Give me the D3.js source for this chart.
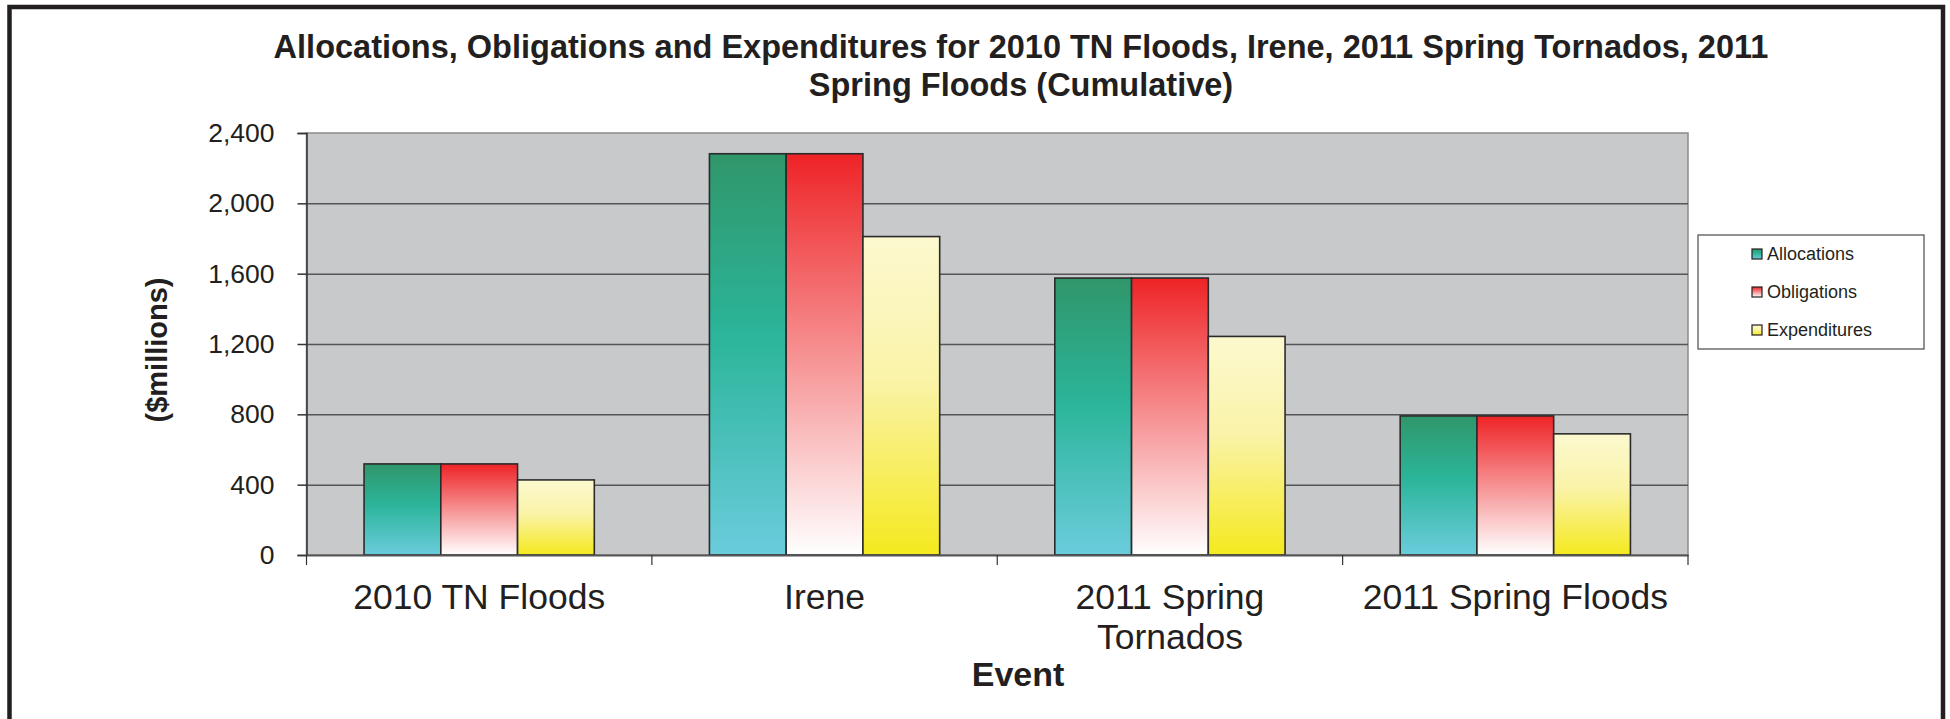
<!DOCTYPE html>
<html>
<head>
<meta charset="utf-8">
<script src="https://cdn.jsdelivr.net/npm/d3@7"></script>
<style>
  html, body { margin: 0; padding: 0; background: #fff; }
  svg { display: block; font-family: "Liberation Sans", Arial, Helvetica, sans-serif; }
</style>
</head>
<body>
<svg id="chart" width="1950" height="719"></svg>
<script>
// ---- data ----
const categories = ["2010 TN Floods", "Irene", "2011 Spring Tornados", "2011 Spring Floods"];
const categoryLabels = [["2010 TN Floods"], ["Irene"], ["2011 Spring", "Tornados"], ["2011 Spring Floods"]];
const seriesNames = ["Allocations", "Obligations", "Expenditures"];
const allocations = [518, 2282, 1575, 791];
const obligations = [518, 2282, 1575, 791];
const expenditures = [427, 1811, 1243, 689];
const yTicks = [0, 400, 800, 1200, 1600, 2000, 2400];
const titleLines = ["Allocations, Obligations and Expenditures for 2010 TN Floods, Irene, 2011 Spring Tornados, 2011",
                    "Spring Floods (Cumulative)"];

const seriesValues = [allocations, obligations, expenditures];

// ---- layout ----
const svg = d3.select("#chart");
const plot = { left: 306.5, right: 1688, top: 133, bottom: 555 };

const x0 = d3.scaleBand().domain(categories).range([plot.left, plot.right]).padding(0);
const x1 = d3.scaleBand().domain(seriesNames).range([0, x0.bandwidth()]).paddingInner(0).paddingOuter(0.75);
const y = d3.scaleLinear().domain([0, 2400]).range([plot.bottom, plot.top]);

// gradients
const defs = svg.append("defs");
const gradStops = {
  Allocations: [["0%", "#30966A"], ["45%", "#2BB59A"], ["100%", "#6BCCDC"]],
  Obligations: [["0%", "#EE2326"], ["100%", "#FFFFFF"]],
  Expenditures: [["0%", "#FCF9D0"], ["45%", "#FAF3A8"], ["100%", "#F5E91E"]]
};
seriesNames.forEach((s, i) => {
  const g = defs.append("linearGradient").attr("id", "grad" + i)
    .attr("x1", 0).attr("y1", 0).attr("x2", 0).attr("y2", 1);
  gradStops[s].forEach(st => g.append("stop").attr("offset", st[0]).attr("stop-color", st[1]));
});

// outer frame
svg.append("rect").attr("x", 9.5).attr("y", 7).attr("width", 1933.5).attr("height", 716)
  .attr("fill", "#fff").attr("stroke", "#231F20").attr("stroke-width", 4.5);

// plot background
svg.append("rect").attr("x", plot.left).attr("y", plot.top)
  .attr("width", plot.right - plot.left).attr("height", plot.bottom - plot.top)
  .attr("fill", "#C8C9CB").attr("stroke", "#8A8A8C").attr("stroke-width", 1.5);

// gridlines
const grid = svg.append("g").attr("transform", `translate(${plot.left},0)`)
  .call(d3.axisLeft(y).tickValues(yTicks.filter(d => d > 0 && d < 2400)).tickSize(-(plot.right - plot.left)).tickFormat(""));
grid.select(".domain").remove();
grid.selectAll("line").attr("stroke", "#555557").attr("stroke-width", 1.5);

// bars
const groups = svg.append("g").selectAll("g").data(categories).join("g")
  .attr("transform", d => `translate(${x0(d)},0)`);
groups.selectAll("rect")
  .data((c, ci) => seriesNames.map((s, si) => ({ s, si, v: seriesValues[si][ci] })))
  .join("rect")
  .attr("x", d => x1(d.s))
  .attr("y", d => y(d.v))
  .attr("width", x1.bandwidth())
  .attr("height", d => y(0) - y(d.v))
  .attr("fill", d => `url(#grad${d.si})`)
  .attr("stroke", "#2B2B2B").attr("stroke-width", 1.6);

// y axis
const yAxis = svg.append("g").attr("transform", `translate(${plot.left},0)`)
  .call(d3.axisLeft(y).tickValues(yTicks).tickSize(9).tickPadding(23).tickFormat(d3.format(",")));
yAxis.select(".domain").attr("stroke", "#333").attr("stroke-width", 1.5);
yAxis.selectAll(".tick line").attr("stroke", "#333").attr("stroke-width", 1.5);
yAxis.selectAll("text").attr("font-size", 26.5).attr("fill", "#231F20")
  .attr("font-family", "'Liberation Sans', Arial, sans-serif");

// x axis line and boundary ticks
const xAxis = svg.append("g").attr("transform", `translate(0,${plot.bottom})`)
  .call(d3.axisBottom(x0).tickSize(0).tickFormat(""));
xAxis.select(".domain").attr("stroke", "#555557").attr("stroke-width", 2);
const boundaries = categories.map(c => x0(c)).concat([x0.range()[1]]);
xAxis.selectAll(".bound").data(boundaries).join("line").attr("class", "bound")
  .attr("x1", d => d).attr("x2", d => d).attr("y1", 0).attr("y2", 10)
  .attr("stroke", "#333").attr("stroke-width", 1.2);

// category labels
const catLabels = svg.append("g").selectAll("text").data(categories).join("text")
  .attr("x", d => x0(d) + x0.bandwidth() / 2)
  .attr("y", 609)
  .attr("text-anchor", "middle")
  .attr("font-size", 35.5)
  .attr("fill", "#231F20");
catLabels.each(function(d, i) {
  const t = d3.select(this);
  categoryLabels[i].forEach((line, li) => {
    t.append("tspan").attr("x", x0(d) + x0.bandwidth() / 2).attr("dy", li === 0 ? 0 : 40).text(line);
  });
});

// axis titles
svg.append("text").attr("x", 1018).attr("y", 686).attr("text-anchor", "middle")
  .attr("font-size", 34).attr("font-weight", "bold").attr("fill", "#231F20").text("Event");
svg.append("text").attr("transform", "translate(157,350) rotate(-90)")
  .attr("text-anchor", "middle").attr("dy", "0.35em")
  .attr("font-size", 29).attr("font-weight", "bold").attr("fill", "#231F20").text("($millions)");

// title
svg.append("g").selectAll("text").data(titleLines).join("text")
  .attr("x", 1021).attr("y", (d, i) => 58 + i * 38)
  .attr("text-anchor", "middle").attr("font-size", 32.5).attr("font-weight", "bold")
  .attr("fill", "#231F20").text(d => d);

// legend
const legend = svg.append("g");
legend.append("rect").attr("x", 1698).attr("y", 235).attr("width", 226).attr("height", 114)
  .attr("fill", "#fff").attr("stroke", "#58585A").attr("stroke-width", 1.3);
const li = legend.selectAll("g.item").data(seriesNames).join("g").attr("class", "item")
  .attr("transform", (d, i) => `translate(1752,${254 + i * 38})`);
li.append("rect").attr("x", 0).attr("y", -5).attr("width", 10).attr("height", 10)
  .attr("fill", (d, i) => `url(#grad${i})`).attr("stroke", "#231F20").attr("stroke-width", 1.2);
li.append("text").attr("x", 15).attr("y", 0).attr("dy", "0.35em")
  .attr("font-size", 18).attr("fill", "#231F20").text(d => d);
</script>
</body>
</html>
